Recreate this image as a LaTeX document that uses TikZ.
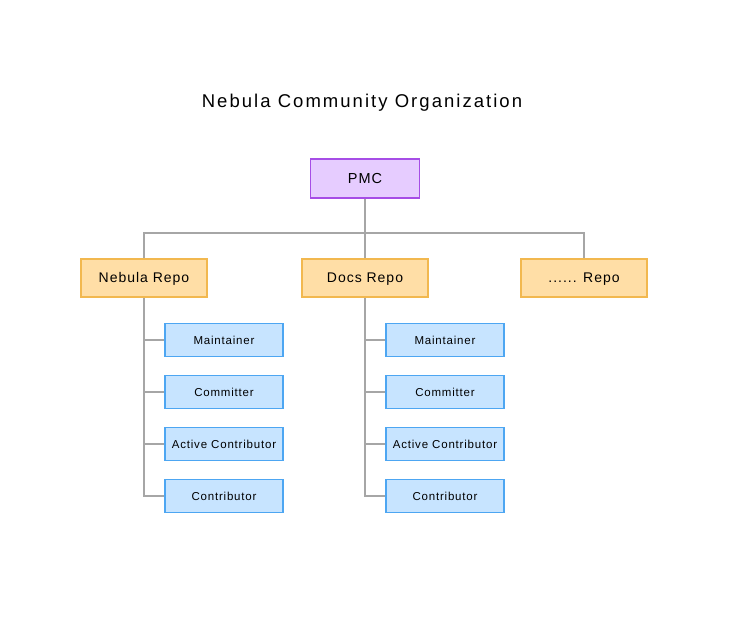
\documentclass[tikz,border=0pt]{standalone}
\usepackage{fontspec}
\usetikzlibrary{backgrounds}
\setmainfont{Liberation Sans}[LetterSpace=7]
\newfontfamily\titlefont{Liberation Sans}[LetterSpace=11]
\definecolor{pmcfill}{HTML}{E6CCFF}
\definecolor{pmcdraw}{HTML}{A64DE6}
\definecolor{repofill}{HTML}{FFDEA6}
\definecolor{repodraw}{HTML}{F2B84F}
\definecolor{rolefill}{HTML}{C7E4FF}
\definecolor{roledraw}{HTML}{4DA6F2}
\definecolor{linec}{HTML}{A6A6A6}
\definecolor{txt}{HTML}{000000}
\tikzset{
  px/.style={x=1pt,y=-1pt},
  pmcbox/.style={draw=pmcdraw,fill=pmcfill,line width=1.5pt,minimum width=109pt,minimum height=39pt,inner sep=0pt,font=\fontsize{14.5}{16}\selectfont,text=txt},
  repobox/.style={draw=repodraw,fill=repofill,line width=1.5pt,minimum width=126pt,minimum height=38pt,inner sep=0pt,text depth=0.6pt,font=\fontsize{14}{16}\selectfont,text=txt},
  rolebox/.style={draw=roledraw,fill=rolefill,line width=1.5pt,minimum width=118pt,minimum height=33pt,inner sep=0pt,font=\fontsize{11.5}{13}\selectfont,text=txt},
  conn/.style={draw=linec,line width=2.5pt}
}
\begin{document}
\begin{tikzpicture}[px]
\useasboundingbox (0,0) rectangle (746,620);
\node[font=\titlefont\fontsize{18.5}{20}\selectfont,text=txt,text depth=0.5pt] (title) at (362,101) {Nebula Community Organization};
\coordinate (bus) at (365,233);
\node[repobox] (r1) at (144,278) {Nebula Repo};
\node[repobox] (r2) at (365,278) {Docs Repo};
\node[repobox] (r3) at (584,278) {...... Repo};
\node[pmcbox] (pmc) at (365,178.5) {PMC};
\foreach \r/\x in {1/144,2/365}{
  \pgfmathsetmacro{\bx}{\x+80}
  \node[rolebox] (m\r) at (\bx,340) {Maintainer};
  \node[rolebox] (c\r) at (\bx,392) {Committer};
  \node[rolebox] (a\r) at (\bx,444) {Active Contributor};
  \node[rolebox] (t\r) at (\bx,496) {Contributor};
}
\begin{scope}[on background layer]
\fill[white] (0,0) rectangle (746,620);
\foreach \r in {1,2}{
  \draw[conn] (r\r.south) |- (t\r.west);
  \draw[conn] (r\r.south |- m\r.west) -- (m\r.west);
  \draw[conn] (r\r.south |- c\r.west) -- (c\r.west);
  \draw[conn] (r\r.south |- a\r.west) -- (a\r.west);
}
\draw[conn] (pmc.south) -- (r2.north);
\draw[conn] (r1.north) |- (bus) -| (r3.north);
\end{scope}
\end{tikzpicture}
\end{document}
